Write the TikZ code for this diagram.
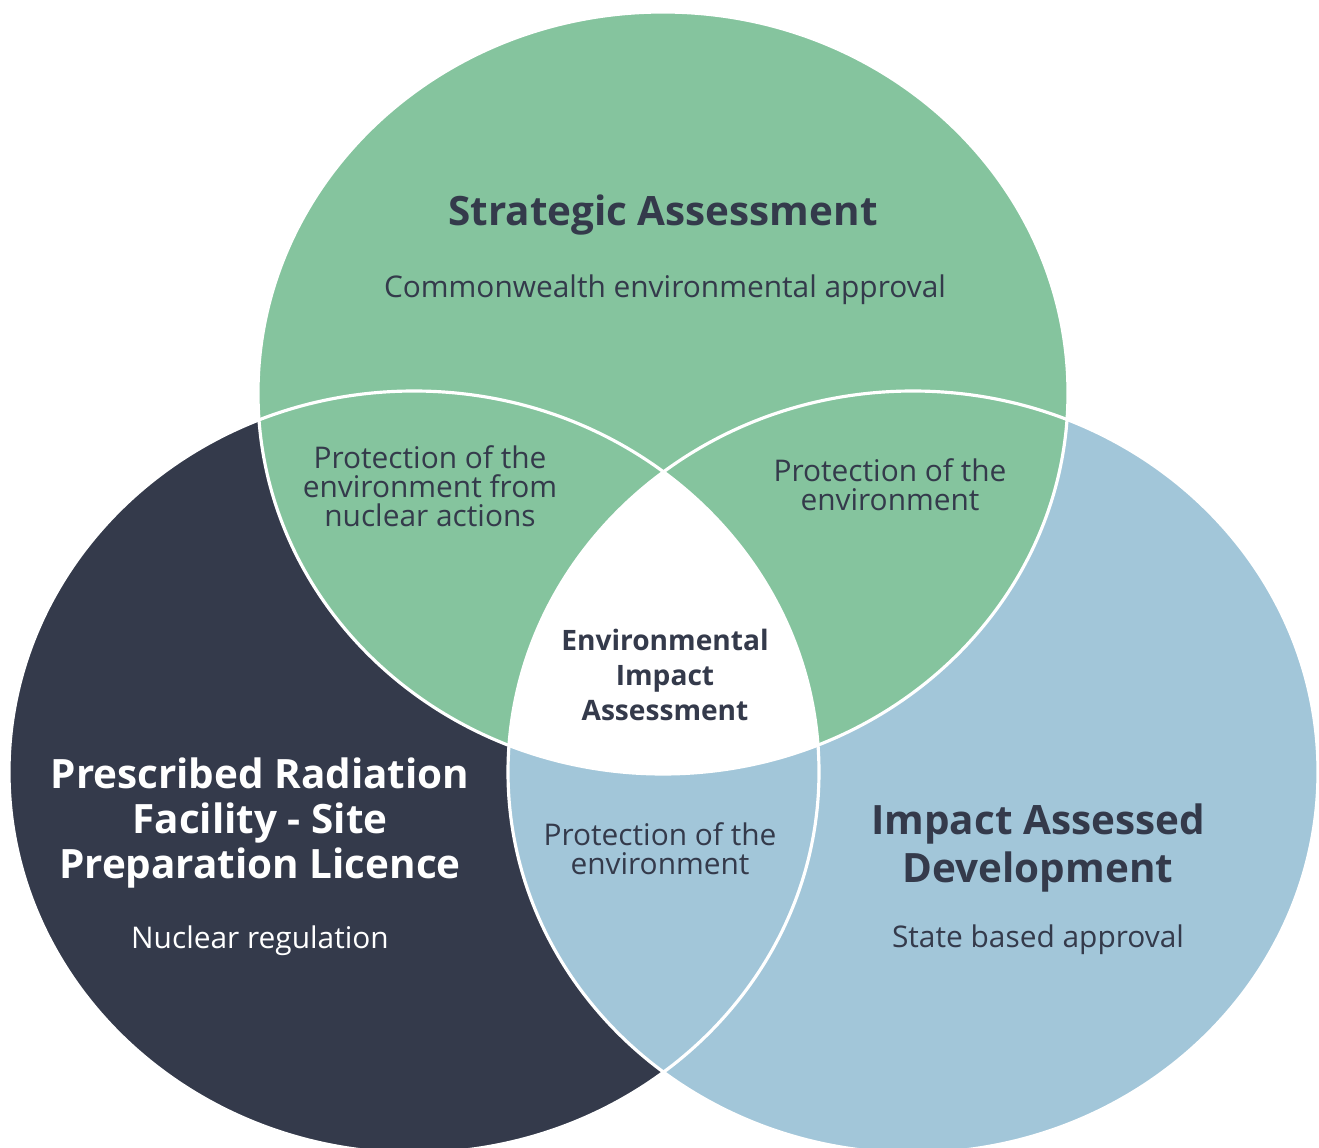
\documentclass[tikz,border=0pt]{standalone}
\usepackage{fontspec}
\setmainfont{Open Sans}
\definecolor{eiagreen}{HTML}{85C49E}
\definecolor{eiadark}{HTML}{343A4B}
\definecolor{eiablue}{HTML}{A2C6D9}
\tikzset{
  ring/.style={draw=white,line width=1.8pt},
  title/.style={font=\bfseries\fontsize{23}{25.5}\selectfont,align=center,text=eiadark},
  sub/.style={font=\fontsize{17}{20}\selectfont,align=center,text=eiadark},
  lens/.style={font=\fontsize{17}{16.4}\selectfont,align=center,text=eiadark}
}
\begin{document}
\begin{tikzpicture}[x=0.02cm,y=-0.02cm]
        \useasboundingbox (0,0) rectangle (1319,1148);
        \fill[eiadark] (414,772) ellipse [x radius=405,y radius=381];
        \fill[eiablue] (913,772) ellipse [x radius=405,y radius=381];
        \fill[eiagreen] (663,393) ellipse [x radius=405,y radius=381];
        \begin{scope}
          \clip (663,393) ellipse [x radius=405,y radius=381];
          \clip (414,772) ellipse [x radius=405,y radius=381];
          \fill[white] (913,772) ellipse [x radius=405,y radius=381];
        \end{scope}
        % outlines on top of all fills
        \draw[ring] (414,772) ellipse [x radius=405,y radius=381];
        \draw[ring] (913,772) ellipse [x radius=405,y radius=381];
        \draw[ring] (663,393) ellipse [x radius=405,y radius=381];
        \node[title](sa)at(663,215){Strategic Assessment};
        \node[sub](sasub)at(665,290){Commonwealth environmental approval};
        \node[lens](tl)at(430,486){Protection of the\\environment from\\nuclear actions};
        \node[lens](tr)at(890,485){Protection of the\\environment};
        \node[title,font=\bfseries\fontsize{16}{20}\selectfont](eia)at(665,675){Environmental\\Impact\\Assessment};
        \node[lens](bot)at(660,849){Protection of the\\environment};
        \node[title,text=white](prf)at(260,823){Prescribed Radiation\\Facility - Site\\Preparation Licence};
        \node[sub,text=white](prfsub)at(260,941){Nuclear regulation};
        \node[title,font=\bfseries\fontsize{23}{27.5}\selectfont](iad)at(1038,848){Impact Assessed\\Development};
        \node[sub](iadsub)at(1038,940){State based approval};
\end{tikzpicture}
\end{document}
